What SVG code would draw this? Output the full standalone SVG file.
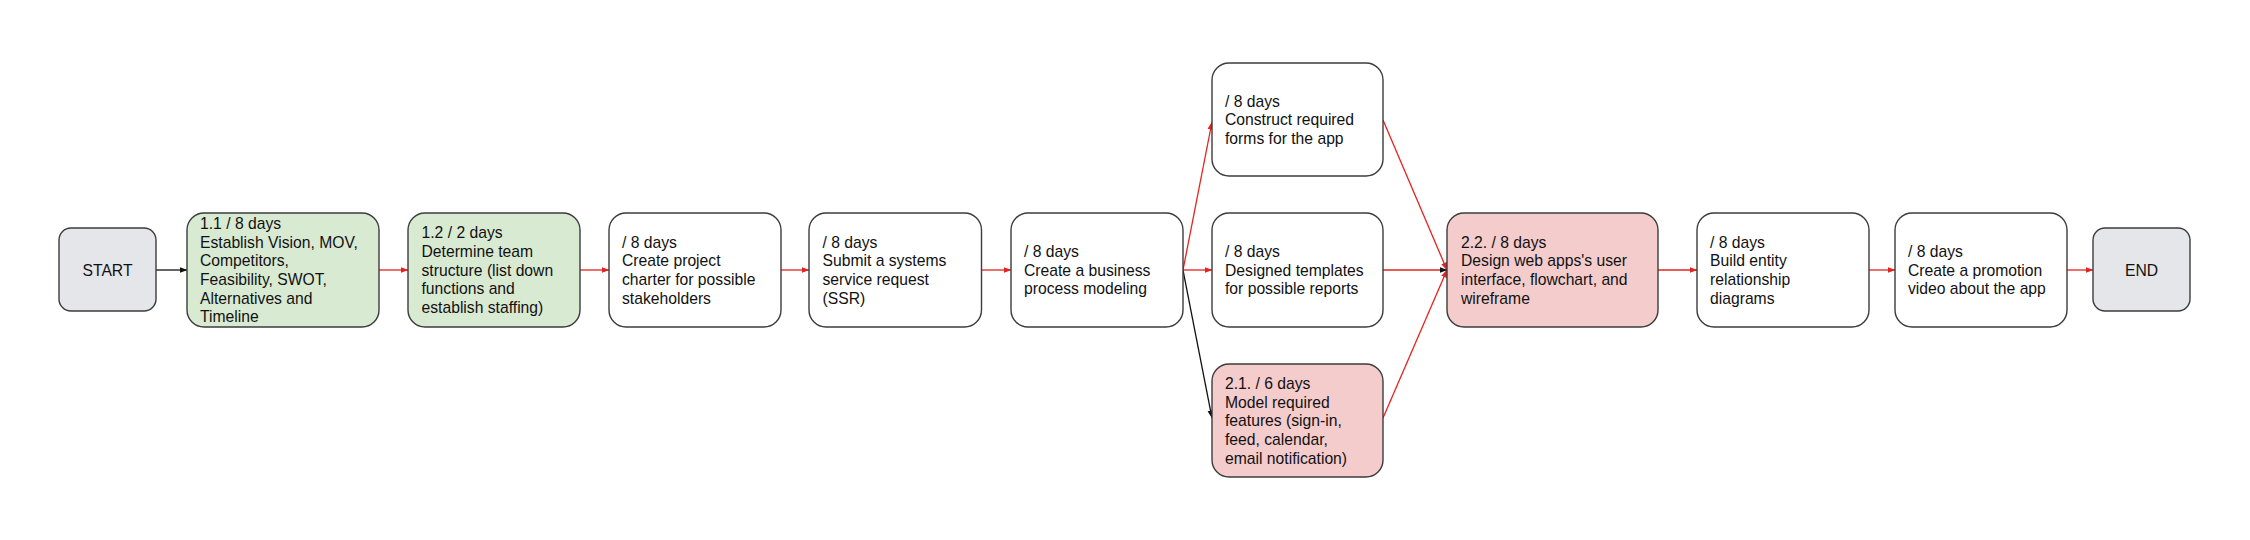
<svg xmlns="http://www.w3.org/2000/svg" width="2250" height="540" viewBox="0 0 2250 540">
<style>
.box{stroke:#3c3c3c;stroke-width:1.4}
.white{fill:#ffffff}
.green{fill:#d9ead3}
.pink{fill:#f4cccc}
.gray{fill:#e5e6ea}
text{font-family:"Liberation Sans",Arial,sans-serif;font-size:15.7px;fill:#111}
.red{stroke:#e3231f;stroke-width:1.3;fill:none}
.blk{stroke:#111;stroke-width:1.3;fill:none}
</style>
<defs>
<marker id="ar" markerUnits="userSpaceOnUse" markerWidth="8" markerHeight="8" viewBox="0 0 8 8" refX="7.5" refY="4" orient="auto"><path d="M0,1 L8,4 L0,7 Z" fill="#e3231f"/></marker>
<marker id="ab" markerUnits="userSpaceOnUse" markerWidth="8" markerHeight="8" viewBox="0 0 8 8" refX="7.5" refY="4" orient="auto"><path d="M0,1 L8,4 L0,7 Z" fill="#111"/></marker>
</defs>
<rect width="2250" height="540" fill="#ffffff"/>
<g id="connectors">
<line class="blk" x1="156" y1="270" x2="187" y2="270" marker-end="url(#ab)"/>
<line class="red" x1="379" y1="270" x2="408" y2="270" marker-end="url(#ar)"/>
<line class="red" x1="580" y1="270" x2="609" y2="270" marker-end="url(#ar)"/>
<line class="red" x1="781" y1="270" x2="809" y2="270" marker-end="url(#ar)"/>
<line class="red" x1="981.5" y1="270" x2="1011" y2="270" marker-end="url(#ar)"/>
<line class="red" x1="1183" y1="270" x2="1212" y2="122" marker-end="url(#ar)"/>
<line class="red" x1="1183" y1="270" x2="1212" y2="270" marker-end="url(#ar)"/>
<line class="blk" x1="1183" y1="270" x2="1212" y2="418" marker-end="url(#ab)"/>
<line class="red" x1="1383" y1="120" x2="1447" y2="270" marker-end="url(#ar)"/>
<line class="red" x1="1383" y1="418" x2="1447" y2="270" marker-end="url(#ar)"/>
<line class="red" x1="1383" y1="270" x2="1447" y2="270" marker-end="url(#ab)"/>
<line class="red" x1="1658" y1="270" x2="1697" y2="270" marker-end="url(#ar)"/>
<line class="red" x1="1869" y1="270" x2="1895" y2="270" marker-end="url(#ar)"/>
<line class="red" x1="2067" y1="270" x2="2093" y2="270" marker-end="url(#ar)"/>
</g>
<g id="start">
<rect class="box gray" x="59" y="228" width="97" height="83" rx="12"/>
<text x="107.5" y="275.5" text-anchor="middle">START</text>
</g>
<g id="task11">
<rect class="box green" x="187" y="213" width="192" height="114" rx="17"/>
<text x="200" y="228.8">1.1 / 8 days</text>
<text x="200" y="247.5">Establish Vision, MOV,</text>
<text x="200" y="266.2">Competitors,</text>
<text x="200" y="284.9">Feasibility, SWOT,</text>
<text x="200" y="303.6">Alternatives and</text>
<text x="200" y="322.3">Timeline</text>
</g>
<g id="task12">
<rect class="box green" x="408" y="213" width="172" height="114" rx="17"/>
<text x="421.5" y="238.2">1.2 / 2 days</text>
<text x="421.5" y="256.9">Determine team</text>
<text x="421.5" y="275.6">structure (list down</text>
<text x="421.5" y="294.3">functions and</text>
<text x="421.5" y="313">establish staffing)</text>
</g>
<g id="charter">
<rect class="box white" x="609" y="213" width="172" height="114" rx="17"/>
<text x="622" y="247.5">/ 8 days</text>
<text x="622" y="266.2">Create project</text>
<text x="622" y="284.9">charter for possible</text>
<text x="622" y="303.6">stakeholders</text>
</g>
<g id="ssr">
<rect class="box white" x="809" y="213" width="172.5" height="114" rx="17"/>
<text x="822.5" y="247.5">/ 8 days</text>
<text x="822.5" y="266.2">Submit a systems</text>
<text x="822.5" y="284.9">service request</text>
<text x="822.5" y="303.6">(SSR)</text>
</g>
<g id="bpm">
<rect class="box white" x="1011" y="213" width="172" height="114" rx="17"/>
<text x="1024" y="256.9">/ 8 days</text>
<text x="1024" y="275.6">Create a business</text>
<text x="1024" y="294.3">process modeling</text>
</g>
<g id="forms">
<rect class="box white" x="1212" y="63" width="171" height="113" rx="17"/>
<text x="1225" y="106.6">/ 8 days</text>
<text x="1225" y="125.3">Construct required</text>
<text x="1225" y="144">forms for the app</text>
</g>
<g id="templates">
<rect class="box white" x="1212" y="213" width="171" height="114" rx="17"/>
<text x="1225" y="256.9">/ 8 days</text>
<text x="1225" y="275.6">Designed templates</text>
<text x="1225" y="294.3">for possible reports</text>
</g>
<g id="task21">
<rect class="box pink" x="1212" y="364" width="171" height="113" rx="17"/>
<text x="1225" y="389">2.1. / 6 days</text>
<text x="1225" y="407.7">Model required</text>
<text x="1225" y="426.4">features (sign-in,</text>
<text x="1225" y="445.1">feed, calendar,</text>
<text x="1225" y="463.8">email notification)</text>
</g>
<g id="task22">
<rect class="box pink" x="1447" y="213" width="211" height="114" rx="17"/>
<text x="1461" y="247.5">2.2. / 8 days</text>
<text x="1461" y="266.2">Design web apps's user</text>
<text x="1461" y="284.9">interface, flowchart, and</text>
<text x="1461" y="303.6">wireframe</text>
</g>
<g id="erd">
<rect class="box white" x="1697" y="213" width="172" height="114" rx="17"/>
<text x="1710" y="247.5">/ 8 days</text>
<text x="1710" y="266.2">Build entity</text>
<text x="1710" y="284.9">relationship</text>
<text x="1710" y="303.6">diagrams</text>
</g>
<g id="promo">
<rect class="box white" x="1895" y="213" width="172" height="114" rx="17"/>
<text x="1908" y="256.9">/ 8 days</text>
<text x="1908" y="275.6">Create a promotion</text>
<text x="1908" y="294.3">video about the app</text>
</g>
<g id="end">
<rect class="box gray" x="2093" y="228" width="97" height="83" rx="12"/>
<text x="2141.5" y="275.5" text-anchor="middle">END</text>
</g>
</svg>
